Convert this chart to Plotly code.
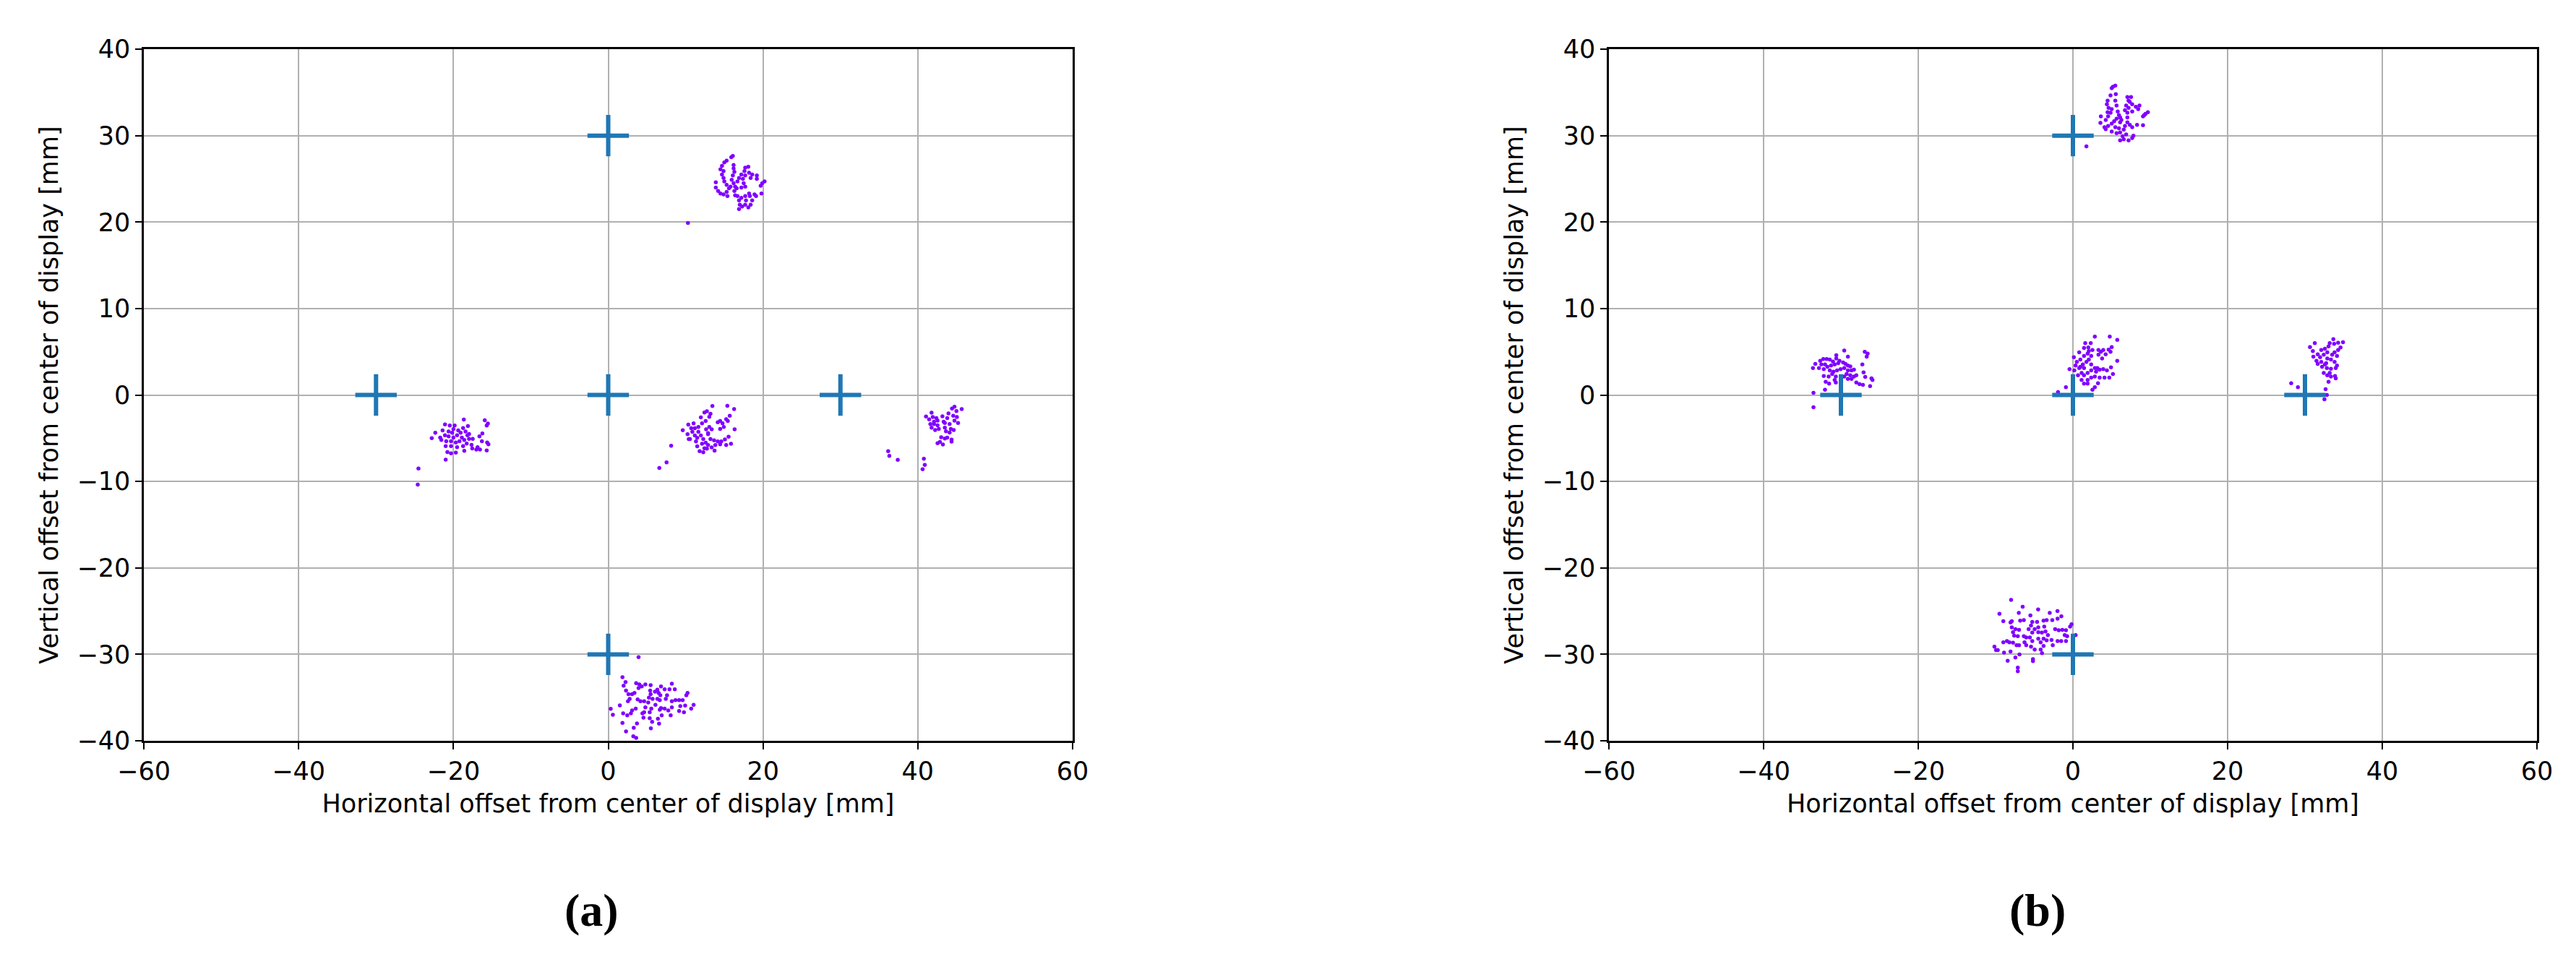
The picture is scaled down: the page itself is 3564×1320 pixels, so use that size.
import plotly.graph_objects as go

# target positions (mm)
targets_a_x = [0, -30, 0, 30, 0]
targets_a_y = [30, 0, 0, 0, -30]
targets_b_x = [0, -30, 0, 30, 0]
targets_b_y = [30, 0, 0, 0, -30]

# panel (a) gaze samples, one list per cluster
a_top_x = [10.3, 16.1, 15.9, 15.3, 15.0, 14.7, 14.5, 14.9, 16.2, 16.2, 16.3, 16.1, 15.95, 16.2, 16.4, 16.6,
           15.8, 15.3, 15.0, 14.9, 14.7, 13.9, 13.9, 14.2, 14.5, 14.9, 15.4, 15.3, 15.6, 17.7, 18.1, 17.6,
           17.2, 16.9, 16.7, 17.4, 17.7, 18.2, 18.4, 18.6, 19.2, 19.2, 20.2, 19.9, 19.7, 17.5, 17.7, 17.2,
           16.3, 16.4, 16.7, 16.9, 17.2, 17.7, 18.2, 18.9, 19.1, 18.3, 19.8, 17.8, 18.4, 18.1, 17.3, 16.9,
           17.0, 17.7, 18.6]
a_top_y = [19.9, 27.65, 27.5, 27.1, 26.9, 26.5, 26.1, 25.9, 26.6, 26.2, 25.8, 25.4, 24.9, 24.5, 24.1, 23.9,
           24.1, 24.3, 24.7, 25.1, 25.5, 24.6, 24.0, 23.6, 23.3, 23.2, 23.0, 23.5, 23.9, 26.3, 26.4, 25.9,
           25.5, 25.1, 24.7, 25.0, 25.4, 25.7, 25.1, 25.5, 25.4, 25.0, 24.7, 24.5, 24.2, 24.5, 24.1, 24.0,
           23.6, 23.1, 23.0, 22.5, 22.8, 23.0, 23.3, 23.2, 23.0, 23.0, 23.3, 22.5, 22.0, 21.7, 21.8, 21.5,
           22.0, 22.0, 22.5]

a_left_x = [-24.61, -24.52, -21.0, -18.66, -15.95, -15.55, -15.7, -18.13, -18.75, -21.09, -20.47, -19.84,
            -21.4, -22.34, -22.8, -21.71, -21.09, -20.62, -20.16, -20.0, -19.53, -19.07, -18.44, -17.98,
            -17.51, -17.98, -18.6, -19.22, -19.69, -20.31, -20.93, -21.56, -21.0, -20.31, -19.53, -18.75,
            -18.29, -17.66, -18.6, -19.69, -20.31, -20.78, -17.57, -17.04, -16.57, -16.88, -16.26, -16.64,
            -16.32, -15.64, -15.48, -15.7, -18.19, -18.91, -20.62, -20.0, -19.38]
a_left_y = [-10.36, -8.5, -7.49, -2.84, -2.92, -3.31, -3.54, -3.59, -3.82, -3.4, -3.54, -3.54,
            -4.09, -4.37, -4.99, -4.93, -4.65, -4.23, -4.37, -4.93, -4.65, -4.37, -4.23, -4.51,
            -5.07, -5.07, -5.21, -5.35, -5.49, -5.35, -5.35, -5.21, -5.91, -5.91, -6.04, -5.91,
            -5.63, -5.77, -6.46, -6.66, -6.74, -6.6, -6.18, -6.32, -6.32, -6.04, -4.46, -4.79,
            -5.35, -5.49, -5.71, -6.41, -4.65, -4.93, -4.79, -3.96, -4.09]

a_center_x = [6.6, 7.54, 8.13, 9.63, 10.35, 10.25, 10.56, 10.72, 11.03, 10.87, 11.19, 11.34, 11.5, 11.81,
              12.28, 11.97, 12.43, 12.75, 13.21, 13.06, 12.59, 12.12, 11.65, 11.65, 11.97, 12.28, 12.59,
              12.9, 12.75, 13.37, 13.74, 13.84, 14.15, 13.68, 13.21, 12.9, 12.65, 13.06, 13.37, 12.9,
              13.46, 15.39, 16.27, 15.7, 15.24, 15.45, 14.77, 14.46, 14.15, 14.93, 14.46, 16.33, 15.55,
              15.08, 14.61, 15.24, 15.86, 14.46, 10.41, 11.19, 11.5, 12.12, 12.43]
a_center_y = [-8.44, -7.8, -5.88, -4.07, -3.43, -4.54, -5.1, -3.84, -3.29, -4.26, -4.68, -5.38, -5.93, -6.49,
              -6.63, -2.59, -2.03, -1.89, -2.17, -2.53, -3.0, -3.29, -3.7, -4.26, -4.68, -5.1, -5.52,
              -5.79, -6.21, -6.07, -6.43, -5.79, -5.38, -5.24, -5.1, -4.54, -3.98, -3.7, -3.98, -4.4,
              -1.28, -1.25, -1.62, -2.4, -2.81, -3.0, -3.29, -3.0, -3.15, -3.7, -3.93, -3.98, -4.82,
              -5.15, -5.38, -5.79, -5.65, -5.71, -5.1, -3.84, -4.96, -5.65, -6.16]

a_right_x = [36.17, 36.32, 37.41, 40.78, 40.9, 40.62, 41.78, 41.06, 41.46, 41.62, 41.78, 42.09, 42.4,
             42.55, 42.24, 43.18, 43.34, 43.49, 43.64, 43.8, 43.96, 44.11, 44.27, 44.42, 44.74, 44.99,
             44.58, 44.74, 45.05, 45.2, 45.67, 44.64, 44.11, 43.02, 43.49, 43.8, 44.36, 44.36, 42.55,
             43.24, 42.86, 42.09, 42.55, 43.49, 42.71, 41.93]
a_right_y = [-6.49, -7.04, -7.51, -7.38, -8.09, -8.59, -2.04, -2.49, -2.82, -3.37, -3.78, -3.09, -2.68,
             -3.51, -4.06, -2.46, -3.09, -3.78, -4.2, -2.68, -2.13, -3.37, -3.92, -1.57, -1.35, -1.85,
             -2.4, -2.96, -2.54, -3.23, -1.63, -4.06, -4.34, -4.89, -5.03, -4.94, -5.17, -5.39, -5.58,
             -5.72, -5.44, -3.37, -2.96, -3.23, -3.92, -2.54]

a_bottom_x = [3.92, 1.84, 2.24, 1.99, 2.3, 2.61, 3.08, 2.77, 2.55, 3.39, 3.61, 4.02, 3.92, 4.33, 4.8, 5.48,
              5.42, 5.48, 5.26, 6.04, 6.35, 6.51, 6.73, 6.82, 7.29, 7.91, 8.22, 8.6, 7.6, 6.66, 6.35, 5.73,
              5.17, 4.64, 4.17, 3.8, 8.22, 8.69, 9.16, 9.62, 10.09, 10.25, 11.03, 10.72, 9.94, 9.31, 9.16,
              9.78, 8.22, 7.76, 7.29, 6.82, 6.66, 6.1, 5.57, 4.8, 4.64, 5.36, 4.42, 3.55, 3.08, 2.93, 2.46,
              1.93, 1.84, 3.71, 3.3, 2.3, 3.24, 3.61, 4.55, 5.36, 5.67, 5.51, 6.42, 6.57, 6.91, 8.07, 7.44,
              0.32, 0.6, 1.5]
a_bottom_y = [-30.33, -32.65, -33.2, -33.62, -34.18, -34.6, -34.6, -35.15, -35.43, -34.46, -33.34, -33.48,
              -33.9, -33.7, -33.48, -33.57, -34.18, -34.6, -35.01, -34.32, -34.09, -34.46, -34.74, -33.7,
              -34.04, -34.04, -33.4, -34.04, -34.74, -35.29, -35.15, -35.15, -35.57, -35.43, -35.43, -35.21,
              -35.43, -35.29, -35.29, -35.29, -34.74, -34.46, -35.85, -36.27, -35.93, -35.99, -36.55, -36.69,
              -36.13, -36.49, -36.27, -36.21, -36.41, -35.85, -36.27, -36.13, -36.69, -36.69, -36.82, -36.27,
              -36.49, -36.82, -37.05, -36.82, -37.94, -37.99, -38.5, -38.91, -39.47, -39.67, -37.33, -37.38,
              -37.8, -38.55, -37.44, -38.02, -37.05, -37.05, -35.15, -36.3, -37.0, -35.9]

# panel (b) gaze samples
b_top_x = [1.74, 5.17, 5.48, 5.01, 4.86, 5.54, 4.48, 4.39, 4.61, 4.48, 3.61, 3.55, 4.24, 4.55, 4.86, 5.01,
           5.48, 5.64, 5.79, 5.95, 5.64, 5.33, 5.01, 4.55, 4.08, 4.24, 5.01, 5.48, 6.1, 6.26, 5.95, 6.1,
           6.57, 6.73, 7.04, 6.88, 7.19, 7.04, 7.51, 7.35, 7.66, 7.19, 6.73, 7.66, 7.04, 8.13, 8.6, 8.44,
           9.69, 9.38, 9.06, 9.22, 7.04, 7.35, 7.66, 8.29, 9.06, 6.88, 6.42, 6.1, 6.57, 7.19, 7.66, 7.82,
           5.64, 6.1]
b_top_y = [28.75, 35.65, 35.77, 35.49, 34.65, 34.79, 34.04, 33.62, 33.2, 32.7, 32.23, 31.48, 31.81, 32.23,
           32.65, 33.06, 34.04, 33.48, 32.79, 32.37, 31.95, 31.67, 31.39, 31.11, 30.97, 30.75, 30.47, 30.97,
           31.53, 31.81, 30.84, 30.36, 30.7, 31.11, 32.09, 33.48, 34.04, 34.46, 34.46, 33.9, 33.62, 33.2,
           32.93, 32.79, 32.65, 33.34, 33.48, 33.06, 32.7, 32.51, 32.23, 32.37, 31.53, 31.25, 30.97, 31.25,
           31.2, 30.14, 29.92, 29.44, 29.58, 29.44, 29.72, 30.0, 30.28, 32.09]

b_left_x = [-33.55, -33.55, -32.06, -29.57, -26.92, -26.55, -26.67, -29.1, -30.6, -30.6, -33.62, -33.31,
            -32.68, -32.28, -31.84, -31.44, -31.03, -32.53, -32.84, -32.22, -31.75, -31.28, -30.81, -30.35,
            -30.19, -29.72, -29.41, -29.1, -28.79, -31.44, -30.97, -30.5, -30.04, -29.57, -29.1, -28.63,
            -28.32, -27.23, -27.07, -26.86, -26.05, -25.92, -26.23, -27.16, -27.6, -28.01, -28.32, -28.79,
            -29.26, -28.01, -28.63, -29.1, -29.57, -30.66, -30.81, -30.66, -31.59, -32.22, -31.97, -31.53,
            -31.13, -32.06]
b_left_y = [-1.42, 0.25, 0.61, 5.15, 4.99, 4.79, 4.43, 4.43, 4.6, 4.23, 3.12, 3.59,
            3.96, 4.15, 4.15, 4.09, 3.87, 3.54, 3.12, 2.98, 3.26, 3.4, 3.54, 3.68,
            3.96, 3.76, 3.59, 3.4, 3.31, 2.84, 2.7, 2.84, 2.98, 3.12, 2.84, 2.84,
            2.92, 3.54, 2.62, 2.09, 1.92, 1.73, 1.03, 1.17, 1.25, 1.45, 2.14, 2.28,
            2.42, 2.28, 1.87, 1.87, 2.14, 2.14, 1.73, 1.45, 2.14, 2.2, 1.53, 1.31,
            2.42, 3.54]

b_center_x = [-1.93, -0.91, 2.83, 4.76, 5.73, 5.73, 1.59, 2.3, 1.99, 1.43, 0.81, 0.12, 0.5, 0.34, -0.44,
              0.18, 0.81, 1.28, 0.96, 1.43, 1.9, 2.05, 2.52, 2.36, 2.05, 1.74, 2.36, 1.43, 1.12, 0.65, 1.43,
              1.9, 2.36, 2.83, 3.3, 3.61, 3.92, 3.3, 3.77, 4.23, 4.61, 5.01, 4.86, 3.14, 3.45, 3.92, 4.39,
              4.92, 5.17, 4.7, 4.08, 3.45, 2.83, 2.36, 1.9, 1.43, 1.9, 3.24, 2.83, 2.52, 2.99, 1.12, 0.96]
b_center_y = [0.33, 0.89, 6.74, 6.74, 6.38, 3.96, 5.99, 5.99, 5.49, 5.43, 4.93, 4.37, 3.82, 3.4, 2.98,
              2.84, 3.12, 3.54, 4.09, 4.51, 4.79, 5.07, 5.21, 4.51, 4.09, 3.82, 3.54, 3.12, 2.56, 2.28, 2.28,
              2.56, 2.84, 3.12, 5.21, 4.99, 5.21, 4.65, 4.23, 4.71, 5.24, 5.54, 4.99, 3.12, 2.92, 2.98, 2.84,
              3.2, 2.42, 2.01, 2.01, 2.01, 2.14, 2.01, 1.73, 1.31, 1.31, 1.36, 0.89, 0.61, 2.7, 1.73, 3.26]

b_right_x = [28.22, 29.09, 32.52, 32.83, 32.67, 33.05, 32.43, 32.89, 33.36, 33.89, 33.98, 33.2, 31.27,
             30.65, 31.02, 31.09, 31.65, 31.49, 31.65, 32.11, 32.21, 32.58, 32.83, 33.36, 33.98, 34.14,
             33.83, 33.36, 32.89, 32.43, 32.11, 32.58, 33.05, 33.2, 33.67, 33.77, 34.29, 34.92, 34.6,
             34.29, 33.83, 34.14, 33.52, 32.89, 32.74, 31.96]
b_right_y = [1.36, 0.89, -0.5, 0.0, 0.67, 1.53, 2.56, 2.28, 2.14, 2.2, 1.92, 2.56, 5.99,
             5.54, 5.07, 4.43, 4.71, 3.96, 3.59, 3.82, 3.26, 3.54, 3.12, 3.04, 3.12, 3.4,
             3.82, 4.09, 4.23, 4.65, 5.21, 5.35, 5.63, 5.99, 6.46, 5.91, 6.04, 6.1, 5.49,
             5.21, 4.93, 4.51, 4.65, 4.93, 3.68, 4.37]

b_bottom_x = [-7.13, -7.13, -8.44, -7.44, -6.91, -5.17, -5.17, -8.91, -8.07, -9.94, -9.72, -10.15, -9.0,
              -8.53, -8.22, -7.75, -7.29, -6.97, -6.26, -6.04, -6.04, -6.35, -5.57, -5.26, -5.42, -4.95,
              -4.17, -4.0, -3.8, -4.17, -4.48, -3.8, -3.4, -2.77, -2.61, -1.99, -1.52, -0.9, -0.75, -1.06,
              -1.84, -2.3, -1.37, -0.9, -0.37, -0.18, 0.35, -3.24, -3.55, -4.02, -3.71, -4.48, -4.95, -4.48,
              -5.26, -5.26, -4.64, -3.8, -3.4, -2.67, -1.99, -6.35, -6.82, -7.91, -8.07, -9.0, -7.91, -7.44,
              -6.97, -7.75, -7.6, -7.13, -5.73, -5.42, -8.0, -6.5, -4.5, -3.0, -9.5, -7.0, -5.5, -2.0, -1.5]
b_bottom_y = [-31.95, -31.53, -30.75, -30.36, -30.0, -30.56, -30.78, -29.81, -29.67, -29.5, -29.5, -29.11,
              -28.61, -28.47, -28.61, -28.66, -28.94, -28.94, -28.61, -28.94, -28.05, -27.91, -28.05, -28.47,
              -29.11, -29.44, -29.44, -29.86, -29.03, -28.61, -28.19, -28.19, -28.38, -28.33, -28.94, -28.47,
              -28.47, -28.47, -27.91, -27.77, -27.21, -27.08, -27.16, -27.21, -26.8, -26.52, -27.77, -27.77,
              -27.35, -27.49, -26.8, -26.88, -27.08, -27.44, -27.49, -26.24, -26.24, -26.1, -26.04, -26.04,
              -25.88, -26.04, -26.1, -26.16, -26.32, -26.16, -26.88, -27.08, -27.16, -27.44, -27.83, -27.91,
              -27.08, -26.66, -23.7, -24.5, -24.8, -25.2, -25.3, -25.2, -25.5, -25.0, -25.6]

x_ticks = [-60, -40, -20, 0, 20, 40, 60]
x_tick_labels = ["\u221260", "\u221240", "\u221220", "0", "20", "40", "60"]
y_ticks = [-40, -30, -20, -10, 0, 10, 20, 30, 40]
y_tick_labels = ["\u221240", "\u221230", "\u221220", "\u221210", "0", "10", "20", "30", "40"]

x_title = "Horizontal offset from center of display [mm]"
y_title = "Vertical offset from center of display [mm]"
panel_labels = ["(a)", "(b)"]

W, H = 3564, 1320
OFF = 8  # page body margin of the html page
PURPLE = "#8000ff"
BLUE = "#1f77b4"
FONT = "DejaVu Sans"
FS = 35

fig = go.Figure()

panels = [
    (a_top_x + a_left_x + a_center_x + a_right_x + a_bottom_x,
     a_top_y + a_left_y + a_center_y + a_right_y + a_bottom_y,
     targets_a_x, targets_a_y),
    (b_top_x + b_left_x + b_center_x + b_right_x + b_bottom_x,
     b_top_y + b_left_y + b_center_y + b_right_y + b_bottom_y,
     targets_b_x, targets_b_y),
]

for i, (px, py, tx, ty) in enumerate(panels):
    xa = "x" if i == 0 else "x2"
    ya = "y" if i == 0 else "y2"
    fig.add_trace(go.Scatter(
        x=px, y=py, mode="markers", xaxis=xa, yaxis=ya,
        marker=dict(color=PURPLE, size=5.5, line=dict(width=0)),
        showlegend=False, hoverinfo="skip",
    ))
    fig.add_trace(go.Scatter(
        x=tx, y=ty, mode="markers", xaxis=xa, yaxis=ya,
        marker=dict(symbol="cross-thin", size=41, line=dict(color=BLUE, width=6)),
        showlegend=False, hoverinfo="skip",
    ))

# axes placement in paper coords (pixel positions)
x_domains = [[(199 - OFF) / W, (1484 - OFF) / W], [(2226 - OFF) / W, (3510 - OFF) / W]]
y_domain = [(H - (1025 - OFF)) / H, (H - (68 - OFF)) / H]

axis_common = dict(
    showline=True, linecolor="black", linewidth=2.5, mirror=True,
    showgrid=True, gridcolor="#b0b0b0", gridwidth=2,
    zeroline=False, automargin=False,
    ticks="outside", ticklen=9, tickwidth=2, tickcolor="black",
    tickfont=dict(family=FONT, size=FS, color="black"),
)

for i in range(2):
    sx = "xaxis" if i == 0 else "xaxis2"
    sy = "yaxis" if i == 0 else "yaxis2"
    fig.layout[sx] = dict(
        axis_common, domain=x_domains[i], range=[-60, 60],
        anchor="y" if i == 0 else "y2",
        tickvals=x_ticks, ticktext=x_tick_labels,
        title=dict(text=x_title, font=dict(family=FONT, size=FS, color="black"), standoff=14),
    )
    fig.layout[sy] = dict(
        axis_common, domain=y_domain, range=[-40, 40],
        anchor="x" if i == 0 else "x2",
        tickvals=y_ticks, ticktext=y_tick_labels,
        title=dict(text=y_title, font=dict(family=FONT, size=FS, color="black"), standoff=16),
    )

for label, xc in zip(panel_labels, [(818 - OFF) / W, (2819 - OFF) / W]):
    fig.add_annotation(
        text="<b>" + label + "</b>", x=xc, y=(H - (1259 - OFF)) / H, xref="paper", yref="paper",
        showarrow=False, font=dict(family="Liberation Serif", size=64, color="black"),
        xanchor="center", yanchor="middle",
    )

fig.update_layout(
    width=W, height=H,
    margin=dict(l=0, r=0, t=0, b=0),
    paper_bgcolor="white", plot_bgcolor="white",
)

fig.write_html("out.html")
